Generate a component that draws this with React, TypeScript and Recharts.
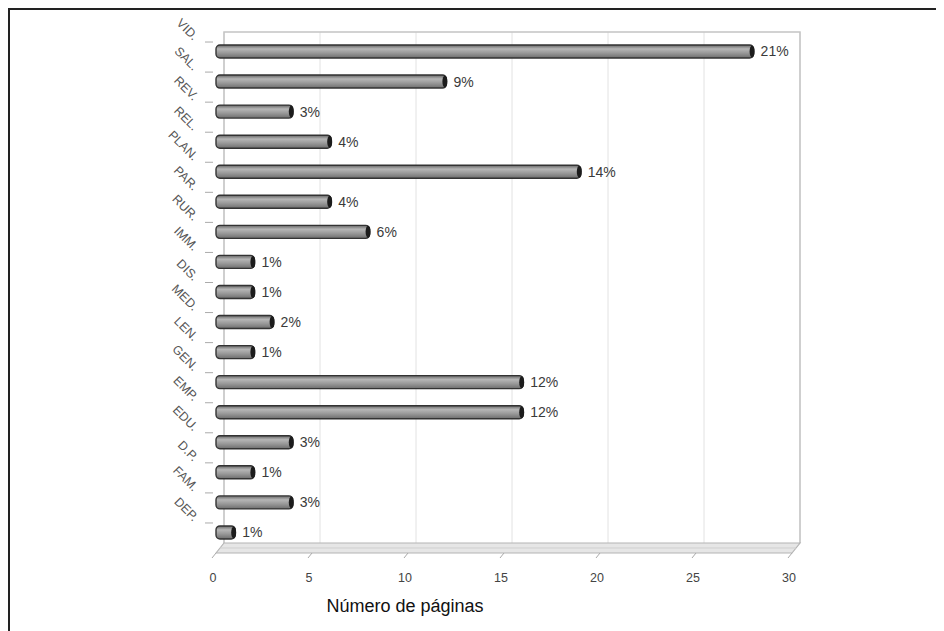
import {
  BarChart,
  Bar,
  XAxis,
  YAxis,
  CartesianGrid,
  ReferenceArea,
  LabelList,
} from 'recharts';

// categories, top to bottom
const categories = [
  'VID.', 'SAL.', 'REV.', 'REL.', 'PLAN.', 'PAR.', 'RUR.', 'IMM.', 'DIS.',
  'MED.', 'LEN.', 'GEN.', 'EMP.', 'EDU.', 'D.P.', 'FAM.', 'DEP.',
];

// number of pages per category
const pages = [28, 12, 4, 6, 19, 6, 8, 2, 2, 3, 2, 16, 16, 4, 2, 4, 1];

// percentage labels printed next to each bar
const percentLabels = [
  '21%', '9%', '3%', '4%', '14%', '4%', '6%', '1%', '1%',
  '2%', '1%', '12%', '12%', '3%', '1%', '3%', '1%',
];

const xTicks = [0, 5, 10, 15, 20, 25, 30];

const data = categories.map((cat, i) => ({
  cat,
  pages: pages[i],
  pct: percentLabels[i],
}));

// 3d depth of the box
const DX = 8;
const DY = 4;

const CategoryTick = (props: any) => {
  const { x, y, payload } = props;
  return (
    <g>
      <line x1={x - 11} y1={y - 9} x2={x - 3} y2={y - 9} stroke="#aaa" strokeWidth={1} />
      <text
        x={0}
        y={0}
        transform={`translate(${x - 23},${y - 10}) rotate(45)`}
        textAnchor="end"
        fontSize={12.5}
        fill="#555"
        fontFamily="Liberation Sans, Arial, sans-serif"
      >
        {payload.value}
      </text>
    </g>
  );
};

const ValueTick = (props: any) => {
  const { x, y, payload } = props;
  return (
    <g>
      <line x1={x} y1={y - 2} x2={x - 4} y2={y + 3} stroke="#aaa" strokeWidth={1} />
      <text
        x={x - 3}
        y={y + 27}
        textAnchor="middle"
        fontSize={12.5}
        fill="#444"
        fontFamily="Liberation Sans, Arial, sans-serif"
      >
        {payload.value}
      </text>
    </g>
  );
};

// back wall, left wall and floor of the 3d box
const Box3D = (props: any) => {
  const { x, y, width, height } = props;
  const bottom = y + height;
  const floorFront = bottom + 6;
  const floorBack = bottom - DY;
  return (
    <g>
      <polyline
        points={`${x + DX},${floorBack} ${x + DX},${y - DY} ${x + width + DX},${y - DY} ${x + width + DX},${floorBack}`}
        fill="none"
        stroke="#c4c4c4"
        strokeWidth={1.5}
      />
      <polygon
        points={`${x},${floorFront} ${x + DX},${floorBack} ${x + width + DX},${floorBack} ${x + width},${floorFront}`}
        fill="#e6e6e6"
        stroke="#b4b4b4"
        strokeWidth={1.2}
      />
      <line
        x1={x + 4}
        y1={(floorFront + floorBack) / 2}
        x2={x + width + 4}
        y2={(floorFront + floorBack) / 2}
        stroke="#cfcfcf"
        strokeWidth={1}
      />
    </g>
  );
};

const Cylinder = (props: any) => {
  const { x, y, width, height } = props;
  if (!width || width <= 0) return null;
  return (
    <g>
      <rect
        x={x}
        y={y}
        width={width}
        height={height}
        rx={4}
        ry={4}
        fill="url(#barGrad)"
        stroke="#333"
        strokeWidth={1.4}
      />
      <ellipse cx={x + width - 1.5} cy={y + height / 2} rx={2.5} ry={height / 2 - 0.5} fill="#1c1c1c" />
    </g>
  );
};

export default function App() {
  return (
    <div
      style={{
        position: 'relative',
        width: 936,
        height: 623,
        borderTop: '2px solid #222',
        borderLeft: '2px solid #222',
        boxSizing: 'border-box',
        fontFamily: 'Liberation Sans, Arial, sans-serif',
      }}
    >
      <style>{`.recharts-cartesian-grid { transform: translate(${DX}px, -${DY}px); }`}</style>
      <BarChart
        layout="vertical"
        width={934}
        height={613}
        data={data}
        margin={{ top: 26, right: 152, left: 0, bottom: 0 }}
        barSize={13}
      >
        <defs>
          <linearGradient id="barGrad" x1="0" y1="0" x2="0" y2="1">
            <stop offset="0%" stopColor="#666" />
            <stop offset="30%" stopColor="#b6b6b6" />
            <stop offset="60%" stopColor="#9a9a9a" />
            <stop offset="100%" stopColor="#6e6e6e" />
          </linearGradient>
        </defs>
        <CartesianGrid horizontal={false} stroke="#e2e2e2" strokeWidth={1} />
        <XAxis
          type="number"
          domain={[0, 30]}
          ticks={xTicks}
          height={76}
          axisLine={false}
          tickLine={false}
          tick={<ValueTick />}
          interval={0}
        />
        <YAxis
          type="category"
          dataKey="cat"
          width={206}
          axisLine={false}
          tickLine={false}
          tickSize={0}
          tickMargin={0}
          interval={0}
          tick={<CategoryTick />}
        />
        <ReferenceArea x1={0} x2={30} ifOverflow="visible" shape={<Box3D />} />
        <Bar dataKey="pages" isAnimationActive={false} shape={<Cylinder />}>
          <LabelList
            dataKey="pct"
            position="right"
            offset={7}
            fontSize={14}
            fill="#3a3a3a"
            fontFamily="Liberation Sans, Arial, sans-serif"
          />
        </Bar>
      </BarChart>
      <div
        style={{
          position: 'absolute',
          left: 295,
          top: 587,
          width: 200,
          textAlign: 'center',
          fontSize: 18,
          lineHeight: '18px',
          color: '#111',
        }}
      >
        Número de páginas
      </div>
    </div>
  );
}
